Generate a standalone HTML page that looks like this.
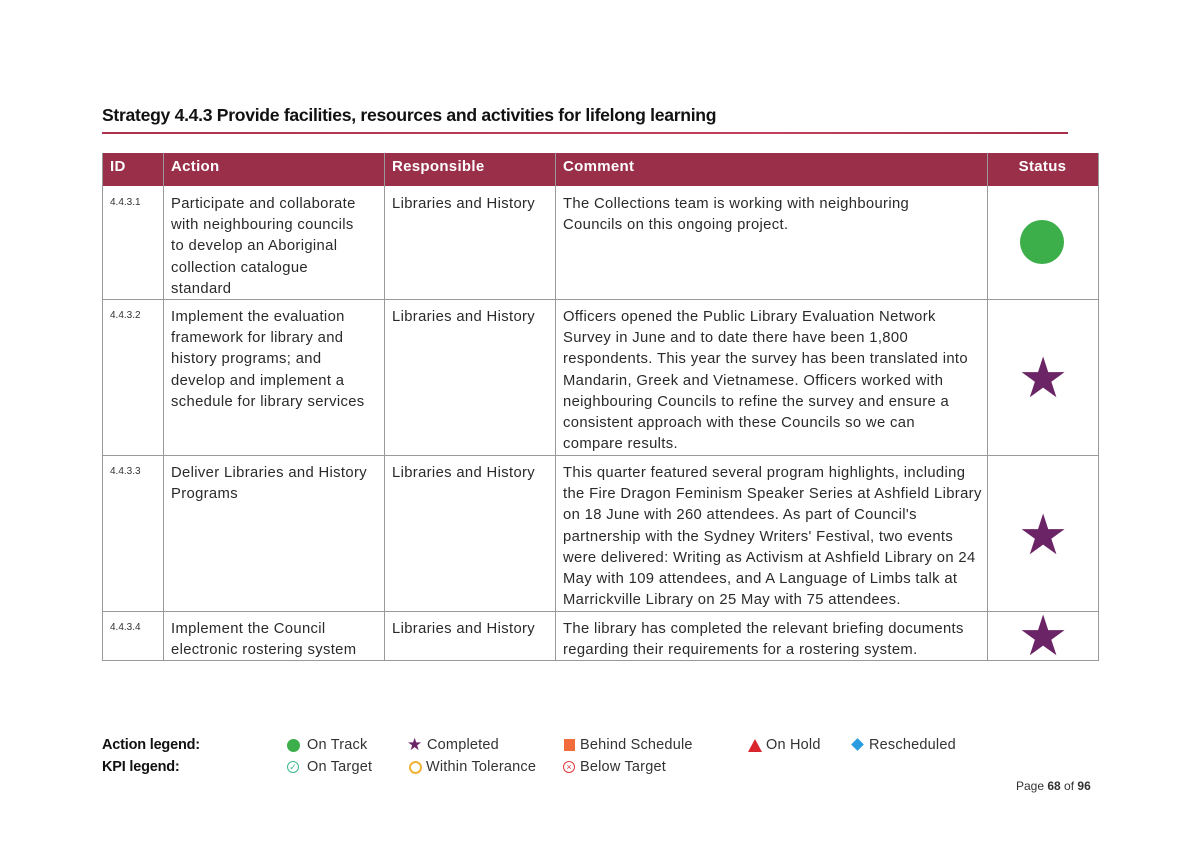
<!DOCTYPE html>
<html><head><meta charset="utf-8"><style>
body{margin:0;width:1194px;height:844px;background:#fff;font-family:"Liberation Sans",sans-serif;color:#222;position:relative;overflow:hidden}
.a{position:absolute}
.t{position:absolute;font-size:14.8px;line-height:21.2px;color:#2a2a2a;letter-spacing:0.35px;white-space:nowrap}
.h{position:absolute;top:153px;height:33px;background:#992f48;color:#fff;font-size:15px;line-height:25px;padding-top:1px;padding-left:8px;box-sizing:border-box;font-weight:bold;letter-spacing:0.3px}
.id{position:absolute;font-size:10px;left:110px;color:#333}
.vl{position:absolute;width:1px;background:#999}
.hl{position:absolute;height:1px;background:#999;left:102px;width:996px}
.lg{position:absolute;font-size:14.5px;color:#333;letter-spacing:0.2px}
</style></head><body>
<div class="a" style="left:102px;top:105px;font-size:17.6px;font-weight:bold;color:#111;letter-spacing:-0.3px">Strategy 4.4.3 Provide facilities, resources and activities for lifelong learning</div>
<div class="a" style="left:102px;top:132px;width:966px;height:2px;background:linear-gradient(90deg,#b0304f,#c2405c 70%,#a82d4a)"></div>

<div class="h" style="left:102px;width:61px">ID</div>
<div class="h" style="left:163px;width:221px">Action</div>
<div class="h" style="left:384px;width:171px">Responsible</div>
<div class="h" style="left:555px;width:432px">Comment</div>
<div class="h" style="left:987px;width:111px;text-align:center;padding-left:0">Status</div>

<div class="vl" style="left:102px;top:153px;height:508px"></div>
<div class="vl" style="left:163px;top:153px;height:508px"></div>
<div class="vl" style="left:384px;top:153px;height:508px"></div>
<div class="vl" style="left:555px;top:153px;height:508px"></div>
<div class="vl" style="left:987px;top:153px;height:508px"></div>
<div class="vl" style="left:1098px;top:153px;height:508px"></div>
<div class="hl" style="top:299px"></div>
<div class="hl" style="top:455px"></div>
<div class="hl" style="top:611px"></div>
<div class="hl" style="top:660px"></div>

<div class="id" style="top:197px">4.4.3.1</div>
<div class="t" style="left:171px;top:194px">Participate and collaborate<br>with neighbouring councils<br>to develop an Aboriginal<br>collection catalogue<br>standard</div>
<div class="t" style="left:392px;top:194px">Libraries and History</div>
<div class="t" style="left:563px;top:194px">The Collections team is working with neighbouring<br>Councils on this ongoing project.</div>
<div class="a" style="left:1020px;top:220px;width:44px;height:44px;border-radius:50%;background:#3cae4a"></div>

<div class="id" style="top:310px">4.4.3.2</div>
<div class="t" style="left:171px;top:307px">Implement the evaluation<br>framework for library and<br>history programs; and<br>develop and implement a<br>schedule for library services</div>
<div class="t" style="left:392px;top:307px">Libraries and History</div>
<div class="t" style="left:563px;top:307px">Officers opened the Public Library Evaluation Network<br>Survey in June and to date there have been 1,800<br>respondents. This year the survey has been translated into<br>Mandarin, Greek and Vietnamese. Officers worked with<br>neighbouring Councils to refine the survey and ensure a<br>consistent approach with these Councils so we can<br>compare results.</div>
<div class="a" style="left:1018px;top:348px;font-size:56px;line-height:60px;color:#6b2466">★</div>

<div class="id" style="top:466px">4.4.3.3</div>
<div class="t" style="left:171px;top:463px">Deliver Libraries and History<br>Programs</div>
<div class="t" style="left:392px;top:463px">Libraries and History</div>
<div class="t" style="left:563px;top:463px">This quarter featured several program highlights, including<br>the Fire Dragon Feminism Speaker Series at Ashfield Library<br>on 18 June with 260 attendees. As part of Council's<br>partnership with the Sydney Writers' Festival, two events<br>were delivered: Writing as Activism at Ashfield Library on 24<br>May with 109 attendees, and A Language of Limbs talk at<br>Marrickville Library on 25 May with 75 attendees.</div>
<div class="a" style="left:1018px;top:505px;font-size:56px;line-height:60px;color:#6b2466">★</div>

<div class="id" style="top:622px">4.4.3.4</div>
<div class="t" style="left:171px;top:619px">Implement the Council<br>electronic rostering system</div>
<div class="t" style="left:392px;top:619px">Libraries and History</div>
<div class="t" style="left:563px;top:619px">The library has completed the relevant briefing documents<br>regarding their requirements for a rostering system.</div>
<div class="a" style="left:1018px;top:606px;font-size:56px;line-height:60px;color:#6b2466">★</div>

<div class="lg" style="left:102px;top:737px;font-weight:bold;color:#111;letter-spacing:-0.2px">Action legend:</div>
<div class="lg" style="left:102px;top:759px;font-weight:bold;color:#111;letter-spacing:-0.2px">KPI legend:</div>
<div class="a" style="left:287px;top:739px;width:13px;height:13px;border-radius:50%;background:#3cae4a"></div>
<div class="lg" style="left:307px;top:737px">On Track</div>
<div class="lg" style="left:407px;top:735px;color:#6b2466;font-size:17px">★</div>
<div class="lg" style="left:427px;top:737px">Completed</div>
<div class="a" style="left:564px;top:739px;width:11px;height:12px;background:#f26b3a"></div>
<div class="lg" style="left:580px;top:737px">Behind Schedule</div>
<div class="a" style="left:748px;top:739px;width:0;height:0;border-left:7px solid transparent;border-right:7px solid transparent;border-bottom:13px solid #d9262c"></div>
<div class="lg" style="left:766px;top:737px">On Hold</div>
<div class="a" style="left:853px;top:740px;width:9px;height:9px;background:#2a9de0;transform:rotate(45deg)"></div>
<div class="lg" style="left:869px;top:737px">Rescheduled</div>
<div class="a" style="left:287px;top:761px;width:10px;height:10px;border:1.5px solid #3cb88a;border-radius:50%;font-size:9px;line-height:10px;text-align:center;color:#3cb88a">✓</div>
<div class="lg" style="left:307px;top:759px">On Target</div>
<div class="a" style="left:409px;top:761px;width:9px;height:9px;border:2px solid #f2b233;border-radius:50%"></div>
<div class="lg" style="left:426px;top:759px">Within Tolerance</div>
<div class="a" style="left:563px;top:761px;width:10px;height:10px;border:1.5px solid #e43a3a;border-radius:50%;font-size:9px;line-height:10px;text-align:center;color:#e43a3a">×</div>
<div class="lg" style="left:580px;top:759px">Below Target</div>
<div class="a" style="left:1016px;top:779px;font-size:12px;color:#333">Page <b>68</b> of <b>96</b></div>
</body></html>
